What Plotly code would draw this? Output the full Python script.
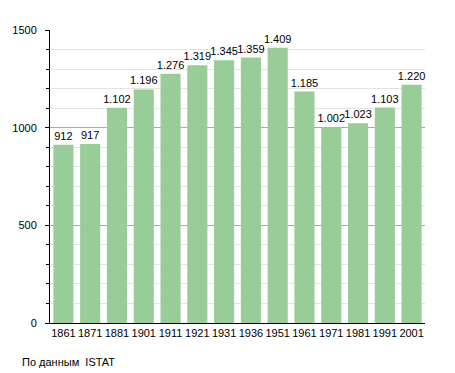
import plotly.graph_objects as go

years = ["1861", "1871", "1881", "1901", "1911", "1921", "1931", "1936",
         "1951", "1961", "1971", "1981", "1991", "2001"]
population = [912, 917, 1102, 1196, 1276, 1319, 1345, 1359, 1409, 1185,
              1002, 1023, 1103, 1220]
y_ticks = [0, 500, 1000, 1500]
source_note = "По данным  ISTAT"

FONT = "Liberation Sans, Arial, sans-serif"

fig = go.Figure()
fig.add_trace(go.Bar(
    x=years, y=population,
    marker=dict(color="#99cc99", line=dict(width=0)),
    texttemplate="%{y:,}", textposition="outside",
    constraintext="none",
    textfont=dict(family=FONT, size=11, color="#000"),
    cliponaxis=False,
    hoverinfo="skip",
))

fig.update_layout(
    width=455, height=373,
    margin=dict(l=50, r=30, t=30, b=50),
    paper_bgcolor="white", plot_bgcolor="white",
    separators=",.",
    bargap=0.25,
    showlegend=False,
    font=dict(family=FONT, size=11, color="#000"),
    xaxis=dict(
        type="category", showgrid=False, showline=True, linecolor="#000",
        linewidth=1, ticks="", tickfont=dict(family=FONT, size=11),
    ),
    yaxis=dict(
        range=[0, 1500], tickvals=y_ticks, ticktext=[str(v) for v in y_ticks],
        showgrid=True, gridcolor="#aaaaaa", gridwidth=1,
        showline=True, linecolor="#000", linewidth=1,
        ticks="outside", ticklen=4, tickcolor="#000",
        ticklabelstandoff=6,
        tickfont=dict(family=FONT, size=11),
        zeroline=False,
        minor=dict(dtick=100, tick0=0, showgrid=True, gridcolor="#e4e4e4",
                   ticks="outside", ticklen=3, tickcolor="#000"),
    ),
    annotations=[dict(
        text=source_note, xref="paper", yref="paper",
        x=-30/375, y=-(362-323)/293, xanchor="left", yanchor="middle",
        showarrow=False, font=dict(family=FONT, size=11, color="#000"),
    )],
)

fig.write_html("out.html", config={"displayModeBar": False},
               post_script="document.body.style.margin='0';document.body.style.overflow='hidden';")
